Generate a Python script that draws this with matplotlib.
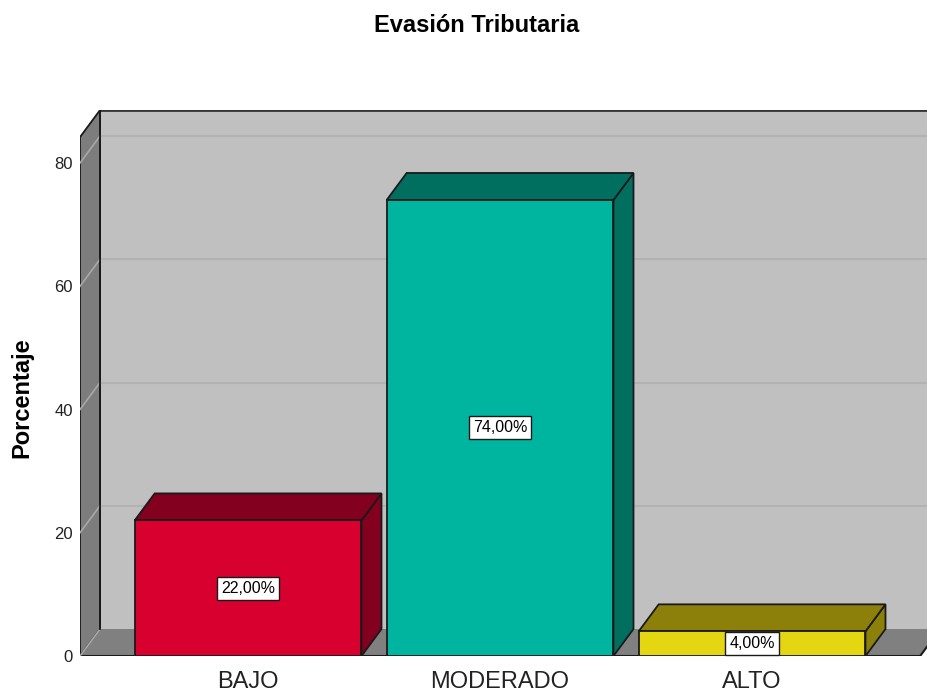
import matplotlib
matplotlib.use('Agg')
import matplotlib.pyplot as plt
from matplotlib.patches import Polygon

plt.rcParams['font.family'] = ['Liberation Sans', 'DejaVu Sans']

# data
categories = ['BAJO', 'MODERADO', 'ALTO']
percentages = [22.0, 74.0, 4.0]
front_colors = ['#d7002f', '#00b5a0', '#e4d611']
shade_colors = ['#83001f', '#006f60', '#8c800a']
y_ticks = [0, 20, 40, 60, 80]

# layout (pixels of a 928x692 canvas)
W, H = 928, 692
px_x0, px_y0 = 80, 656          # front-left-bottom corner
px_per_cat = 252.0
px_per_pct = 493 / 80.0
depth_px = (20, 27)

x_left = -0.667
x_right = 2.667
y_top = 84.2
dx = depth_px[0] / px_per_cat
dy = depth_px[1] / px_per_pct
bar_w = 0.9

fig = plt.figure(figsize=(W / 100, H / 100), dpi=100)
ax = fig.add_axes([px_x0 / W, (H - px_y0) / H, (W - px_x0) / W,
                   (y_top + dy) * px_per_pct / H])
ax.set_xlim(x_left, x_left + (W - px_x0) / px_per_cat)
ax.set_ylim(0, y_top + dy)
for s in ax.spines.values():
    s.set_visible(False)
ax.set_facecolor('none')

edge = '#1a1a1a'
wall_right = x_right + dx + 1

# back wall
ax.add_patch(Polygon([(x_left + dx, dy), (wall_right, dy), (wall_right, y_top + dy),
                      (x_left + dx, y_top + dy)], closed=True,
                     facecolor='#c0c0c0', edgecolor='none', zorder=1))
ax.plot([x_left + dx, wall_right], [y_top + dy, y_top + dy], color='#333333', lw=2, zorder=2)
# side wall
ax.add_patch(Polygon([(x_left, 0), (x_left + dx, dy), (x_left + dx, y_top + dy),
                      (x_left, y_top)], closed=True,
                     facecolor='#7d7d7d', edgecolor=edge, lw=1.3, zorder=2))
# floor
ax.add_patch(Polygon([(x_left, 0), (x_right, 0), (x_right + dx, dy), (x_left + dx, dy)],
                     closed=True, facecolor='#808080', edgecolor='none', zorder=2))
ax.plot([x_left, x_right], [0, 0], color=edge, lw=1.5, zorder=3)
ax.plot([x_right, x_right + dx], [0, dy], color=edge, lw=1.5, zorder=3)

# gridlines
for t in y_ticks:
    ax.plot([x_left, x_left + dx], [t, t + dy], color='#a8a8a8', lw=1.2, zorder=3)
    if t > 0:
        ax.plot([x_left + dx, wall_right], [t + dy, t + dy], color='#b2b2b2', lw=1.5, zorder=1.5)
ax.plot([x_left + dx, x_left + dx], [dy, y_top + dy], color=edge, lw=1.3, zorder=3)

# bars
for i, (v, fc, sc) in enumerate(zip(percentages, front_colors, shade_colors)):
    l, r = i - bar_w / 2, i + bar_w / 2
    ax.add_patch(Polygon([(r, 0), (r + dx, dy), (r + dx, v + dy), (r, v)], closed=True,
                         facecolor=sc, edgecolor=edge, lw=1.3, zorder=4))
    ax.add_patch(Polygon([(l, v), (r, v), (r + dx, v + dy), (l + dx, v + dy)], closed=True,
                         facecolor=sc, edgecolor=edge, lw=1.3, zorder=4))
    ax.add_patch(Polygon([(l, 0), (r, 0), (r, v), (l, v)], closed=True,
                         facecolor=fc, edgecolor=edge, lw=1.3, zorder=5))
    ax.text(i, v / 2, f'{v:.2f}%'.replace('.', ','), ha='center', va='center',
            fontsize=11.5, zorder=6,
            bbox=dict(boxstyle='square,pad=0.25', facecolor='white', edgecolor=edge, lw=1))

ax.set_xticks(range(len(categories)))
ax.set_xticklabels(categories, fontsize=17, color='#222222')
ax.set_yticks(y_ticks)
ax.set_yticklabels([str(t) for t in y_ticks], fontsize=12, color='#222222')
ax.tick_params(axis='both', length=0)
ax.tick_params(axis='x', pad=11)
ax.tick_params(axis='y', pad=5)

fig.text(476.5 / W, (H - 32) / H, 'Evasión Tributaria', ha='center', va='baseline',
         fontsize=17, fontweight='bold')
fig.text(22 / W, (H - 398) / H, 'Porcentaje', rotation=90, ha='center', va='center',
         fontsize=17, fontweight='bold')

fig.savefig('out.png', dpi=100)
